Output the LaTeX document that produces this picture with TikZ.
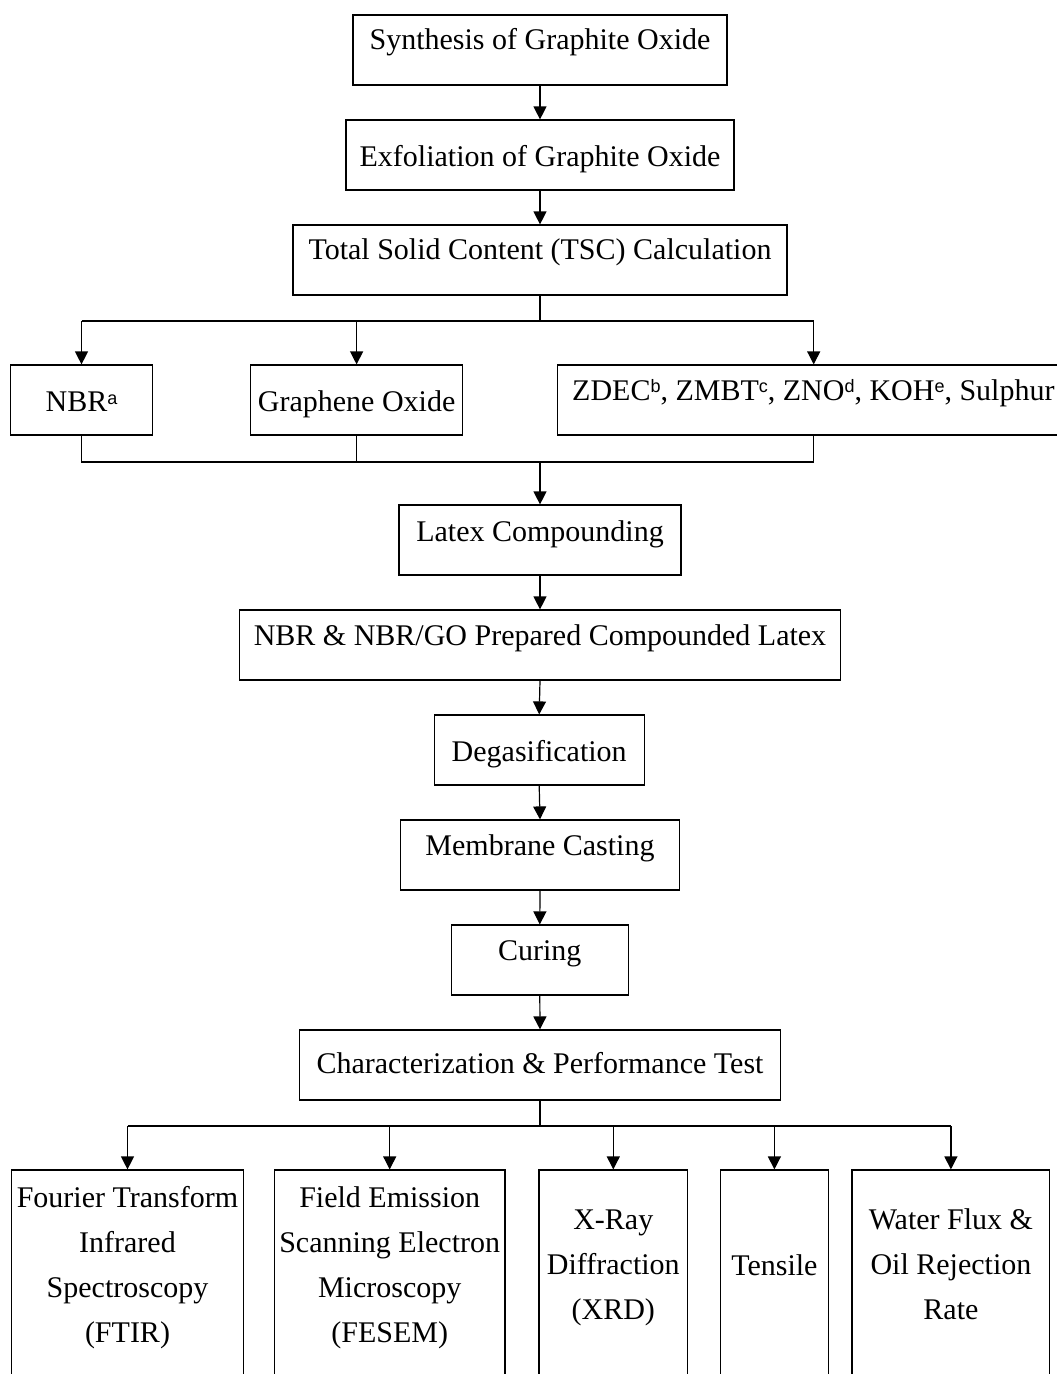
\documentclass[tikz,border=0pt]{standalone}
\usepackage{fontspec}
\setmainfont{Liberation Serif}
\setsansfont{Liberation Sans}
\usetikzlibrary{arrows.meta}
\newcommand{\supsc}[1]{\raisebox{7.5pt}{\fontsize{18}{18}\selectfont\sffamily #1}}
\begin{document}
\begin{tikzpicture}[x=1pt,y=-1pt,
  box/.style={draw, line width=1.2pt, rectangle, inner sep=0pt},
  txt/.style={inner sep=0pt, anchor=base, align=center, font=\fontsize{30}{44.7}\selectfont},
  link/.style={line width=1.2pt},
  arr/.style={line width=1.2pt, -{Triangle[length=13pt,width=13pt]}}]
\useasboundingbox (0,0) rectangle (1057,1374);
\clip (0,0) rectangle (1057,1374);
% main column boxes
\node[box, minimum width=374pt, minimum height=70pt] (syn) at (540,50) {};
\node[txt] (synT) at (540,49.3) {Synthesis of Graphite Oxide};
\node[box, minimum width=388pt, minimum height=70pt] (exf) at (540,155) {};
\node[txt] (exfT) at (540,166.7) {Exfoliation of Graphite Oxide};
\node[box, minimum width=494pt, minimum height=70pt] (tsc) at (540,260) {};
\node[txt] (tscT) at (540,259.3) {Total Solid Content (TSC) Calculation};
% three inputs
\node[box, minimum width=142pt, minimum height=70pt] (nbr) at (81.5,400) {};
\node[txt] (nbrT) at (81.5,411.7) {NBR\supsc{a}};
\node[box, minimum width=212pt, minimum height=70pt] (go) at (356.6,400) {};
\node[txt] (goT) at (356.6,411.7) {Graphene Oxide};
\node[box, minimum width=513pt, minimum height=70pt] (zdec) at (813.7,400) {};
\node[txt, anchor=base west] (zdecT) at (572,400) {ZDEC\supsc{b}, ZMBT\supsc{c}, ZNO\supsc{d}, KOH\supsc{e}, Sulphur};
% continuing column
\node[box, minimum width=282pt, minimum height=70pt] (lat) at (540,540) {};
\node[txt] (latT) at (540,541.7) {Latex Compounding};
\node[box, minimum width=601pt, minimum height=70pt] (prep) at (540,645) {};
\node[txt] (prepT) at (540,645.7) {NBR \& NBR/GO Prepared Compounded Latex};
\node[box, minimum width=210pt, minimum height=70pt] (deg) at (539.2,750) {};
\node[txt] (degT) at (539.2,761.7) {Degasification};
\node[box, minimum width=279pt, minimum height=70pt] (mem) at (540,855) {};
\node[txt] (memT) at (540,855) {Membrane Casting};
\node[box, minimum width=177pt, minimum height=70pt] (cur) at (539.8,960) {};
\node[txt] (curT) at (539.8,960) {Curing};
\node[box, minimum width=481pt, minimum height=70pt] (chr) at (540,1065) {};
\node[txt] (chrT) at (540,1073.3) {Characterization \& Performance Test};
% bottom boxes (base anchor = baseline of last line)
\node[box, minimum width=231.6pt, minimum height=220pt] (ftir) at (127.5,1280) {};
\node[txt] (ftirT) at (127.5,1342) {Fourier Transform\\Infrared\\Spectroscopy\\(FTIR)};
\node[box, minimum width=230.7pt, minimum height=220pt] (fesem) at (389.7,1280) {};
\node[txt] (fesemT) at (389.7,1342) {Field Emission\\Scanning Electron\\Microscopy\\(FESEM)};
\node[box, minimum width=148.7pt, minimum height=220pt] (xrd) at (613.3,1280) {};
\node[txt] (xrdT) at (613.3,1319) {X-Ray\\Diffraction\\(XRD)};
\node[box, minimum width=107.9pt, minimum height=220pt] (ten) at (774.4,1280) {};
\node[txt] (tenT) at (774.4,1275) {Tensile};
\node[box, minimum width=197.7pt, minimum height=220pt] (wat) at (950.9,1280) {};
\node[txt] (watT) at (950.9,1319) {Water Flux \&\\Oil Rejection\\Rate};
% connectors: main column
\draw[arr] (syn.south) -- (exf.north);
\draw[arr] (exf.south) -- (tsc.north);
\coordinate (split1) at (540,321);
\draw[link] (tsc.south) -- (split1);
\draw[link] (nbr.north |- split1) -- (zdec.north |- split1);
\draw[arr] (nbr.north |- split1) -- (nbr.north);
\draw[arr] (go.north |- split1) -- (go.north);
\draw[arr] (zdec.north |- split1) -- (zdec.north);
\coordinate (merge1) at (540,462);
\draw[link] (nbr.south) -- (nbr.south |- merge1) -- (zdec.south |- merge1) -- (zdec.south);
\draw[link] (go.south) -- (go.south |- merge1);
\draw[arr] (merge1) -- (lat.north);
\draw[arr] (lat.south) -- (prep.north);
\draw[arr] (prep.south) -- (deg.north);
\draw[arr] (deg.south) -- (mem.north);
\draw[arr] (mem.south) -- (cur.north);
\draw[arr] (cur.south) -- (chr.north);
\coordinate (split2) at (540,1126);
\draw[link] (chr.south) -- (split2);
\draw[link] (ftir.north |- split2) -- (wat.north |- split2);
\draw[arr] (ftir.north |- split2) -- (ftir.north);
\draw[arr] (fesem.north |- split2) -- (fesem.north);
\draw[arr] (xrd.north |- split2) -- (xrd.north);
\draw[arr] (ten.north |- split2) -- (ten.north);
\draw[arr] (wat.north |- split2) -- (wat.north);
\end{tikzpicture}
\end{document}
